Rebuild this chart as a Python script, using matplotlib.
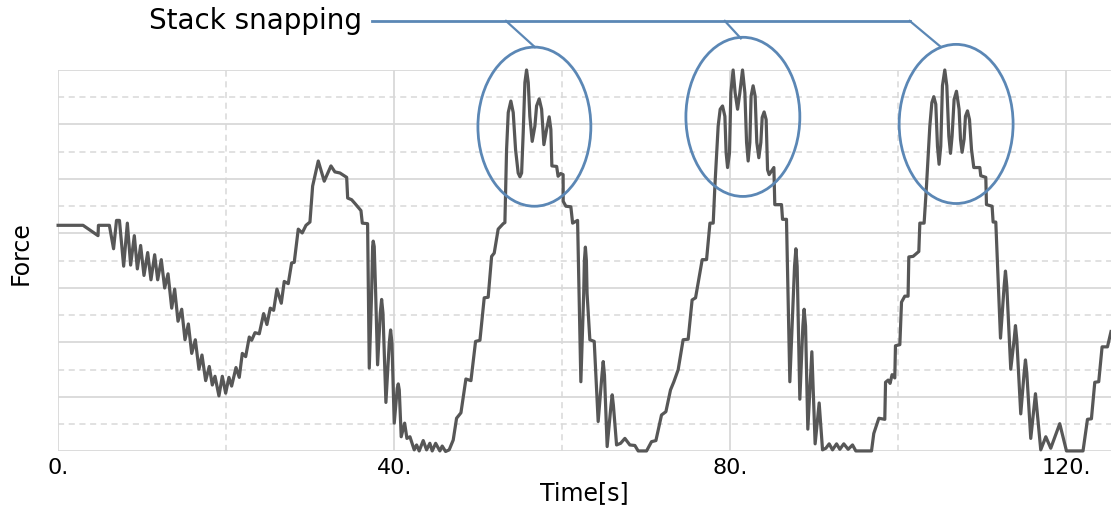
import matplotlib.pyplot as plt
from matplotlib.patches import Ellipse

plt.rcParams['font.family'] = ['DejaVu Sans']

# force trace (time in s, force in grid units)
time = [0, 2.97, 4.75, 4.8, 6.1, 6.6, 6.95, 7.3, 7.8, 8.24, 8.63, 9.07, 9.43, 9.82,
        10.22, 10.66, 11.05, 11.49, 11.85, 12.28, 12.68, 13.08, 13.52, 13.87, 14.27,
        14.71, 15.1, 15.5, 15.9, 16.33, 16.76, 17.12, 17.56, 17.99,
        18.35, 18.67, 19.14, 19.54, 19.94, 20.33, 20.65, 21.17, 21.56, 21.92, 22.32,
        22.75, 23.03, 23.43, 23.94, 24.46, 24.85, 25.25, 25.65, 26.04, 26.56, 26.91,
        27.39, 27.79, 28.1, 28.58, 29.05, 29.5, 29.97, 30.29, 30.96, 31.67, 32.47,
        32.94, 33.54, 34.34, 34.46, 34.93, 35.33, 36.04, 36.2, 36.83,
        37.03, 37.31, 37.43, 37.5, 37.62, 37.79, 38.02, 38.34, 38.5, 38.66, 39.01,
        39.41, 39.57, 39.73, 40.0, 40.36, 40.48, 40.6, 40.83, 41.24, 41.51,
        41.87, 42.38, 42.66, 42.97, 43.45, 43.85, 44.24, 44.52, 44.93, 45.43, 45.71,
        46.11, 46.54, 47.02, 47.42, 47.94, 48.53, 49.13, 49.68, 50.2, 50.71, 51.18,
        51.59, 51.9, 52.37, 52.97, 53.17, 53.37, 53.57, 53.88, 54.16, 54.44, 54.75,
        54.96, 55.16, 55.35, 55.55, 55.75, 55.95, 56.14, 56.42, 56.74, 56.94, 57.25,
        57.54, 57.81, 58.13, 58.44, 58.64, 58.76, 59.33, 59.5, 59.8, 60.1, 60.11,
        60.43, 61.02, 61.23, 61.82,
        62.21, 62.55, 62.63, 62.75, 62.87, 62.95, 63.28, 63.8, 64.27, 64.72, 64.87,
        65.02, 65.34, 65.8, 65.94, 66.08, 66.46, 66.94, 67.45,
        68.04, 68.64, 69.03, 70.03, 70.62, 71.14, 71.81, 72.33, 72.88, 73.28, 73.79,
        74.38, 74.98, 75.45, 75.86, 76.65, 77.17, 77.57, 77.96, 78.16, 78.55, 78.79,
        79.07, 79.35, 79.5, 79.67, 79.9, 80.06, 80.33, 80.57, 80.86, 81.13, 81.45,
        81.73, 81.93, 82.12, 82.32, 82.47, 82.71, 82.95, 83.15, 83.39, 83.63, 83.79,
        84.02, 84.26, 84.43, 84.62, 85.18, 85.29,
        86.09, 86.21, 86.68, 87.08, 87.64, 87.8, 87.95, 88.27, 88.63, 88.78, 88.95,
        89.22, 89.7, 90.09, 90.57,
        90.97, 91.37, 91.76, 92.16, 92.64, 93.03, 93.5, 94.02, 94.54, 94.93, 96.8,
        97.07, 97.67, 98.38, 98.47, 98.78, 99.01, 99.25, 99.57, 99.65, 100.17,
        100.37, 100.76, 101.15, 101.24, 101.75, 102.43, 102.55, 103.06, 103.34,
        103.74, 103.98, 104.21, 104.45, 104.65, 104.84, 105.04, 105.24, 105.52,
        105.76, 106.0, 106.2, 106.39, 106.63, 106.91, 107.22, 107.39, 107.58,
        107.82, 107.98, 108.22, 108.46, 108.7, 108.97, 109.69,
        109.8, 110.4, 110.48, 111.15, 111.27, 111.59, 112.15, 112.58, 112.74, 112.9,
        113.37, 113.77, 113.93, 114.09, 114.56, 114.96, 115.12, 115.28, 115.75,
        116.31, 116.94, 117.54, 118.13, 119.2, 120.0, 121.97,
        122.5, 122.97, 123.37, 123.84, 124.24, 124.88, 125.3]
force = [4.15, 4.15, 3.96, 4.15, 4.15, 3.72, 4.24, 4.24, 3.40, 4.19, 3.42, 3.96, 3.35, 3.78,
         3.23, 3.65, 3.15, 3.61, 3.15, 3.52, 3.0, 3.26, 2.63, 2.98, 2.39,
         2.61, 2.05, 2.34, 1.8, 2.05, 1.51, 1.77, 1.30, 1.56,
         1.22, 1.38, 1.02, 1.38, 1.07, 1.36, 1.20, 1.54, 1.36, 1.80, 1.74,
         2.10, 2.04, 2.18, 2.16, 2.53, 2.33, 2.63, 2.59, 2.98, 2.72, 3.12,
         3.08, 3.46, 3.47, 4.08, 4.01, 4.15, 4.21, 4.87, 5.33, 4.96, 5.24,
         5.13, 5.11, 5.03, 4.65, 4.62, 4.55, 4.42, 4.19, 4.18,
         1.53, 2.91, 3.76, 3.86, 3.76, 2.91, 1.59, 2.54, 2.79, 2.54, 0.90,
         1.99, 2.23, 1.99, 0.52, 1.16, 1.24, 1.13, 0.27, 0.52, 0.24,
         0.27, 0.03, 0.12, 0.01, 0.20, 0.03, 0.15, 0.01, 0.15, 0.01, 0.10,
         0.0, 0.03, 0.21, 0.61, 0.71, 1.33, 1.30, 2.02, 2.04, 2.82, 2.83,
         3.58, 3.64, 4.08, 4.18, 4.2, 5.54, 6.22, 6.43, 6.22, 5.54, 5.11,
         5.04, 5.11, 5.85, 6.77, 7.0, 6.77, 6.15, 5.69, 5.97, 6.34, 6.47,
         6.28, 5.63, 5.91, 6.14, 5.91, 5.24, 5.23, 5.05, 5.1, 5.08, 4.59,
         4.5, 4.49, 4.19, 4.24,
         1.28, 2.9, 3.5, 3.75, 3.5, 2.9, 2.05, 2.02, 0.55, 1.4, 1.65,
         1.4, 0.09, 0.85, 1.04, 0.85, 0.12, 0.15, 0.24,
         0.12, 0.11, 0.01, 0.01, 0.18, 0.2, 0.67, 0.73, 1.13, 1.28, 1.50,
         2.05, 2.06, 2.78, 2.82, 3.52, 3.52, 4.19, 4.19, 4.87, 5.97, 6.28,
         6.34, 6.15, 5.48, 5.21, 5.48, 6.58, 7.0, 6.58, 6.28, 6.58, 7.0,
         6.58, 5.67, 5.33, 5.67, 6.52, 6.71, 6.52, 5.67, 5.39, 5.67, 6.13,
         6.23, 6.09, 5.17, 5.08, 5.21, 4.53,
         4.53, 4.26, 4.26, 1.28, 3.4, 3.72, 3.4, 0.96, 2.3, 2.61, 2.3,
         0.41, 1.83, 0.14, 0.89,
         0.03, 0.06, 0.14, 0.03, 0.14, 0.04, 0.14, 0.04, 0.12, 0.01, 0.01,
         0.33, 0.61, 0.59, 1.27, 1.31, 1.25, 1.41, 1.35, 1.94, 1.96,
         2.74, 2.85, 2.85, 3.57, 3.58, 3.67, 4.19, 4.19, 4.87,
         5.97, 6.4, 6.51, 6.37, 5.6, 5.27, 5.6, 6.71, 7.0,
         6.71, 5.79, 5.47, 5.79, 6.46, 6.61, 6.28, 5.73, 5.49,
         5.73, 6.15, 6.25, 6.09, 5.54, 5.21, 5.21,
         5.06, 5.03, 4.53, 4.5, 4.21, 4.21, 2.08, 3.03, 3.31, 3.03,
         1.51, 2.05, 2.31, 2.05, 0.69, 1.44, 1.68, 1.44, 0.24,
         1.06, 0.03, 0.27, 0.06, 0.51, 0.01, 0.01,
         0.59, 0.6, 1.27, 1.28, 1.92, 1.92, 2.2]

# circled snapping regions: centre time, centre force, width, height
snap_t = [56.68, 81.49, 106.87]
snap_f = [5.96, 6.14, 6.01]
snap_w = [13.44, 13.56, 13.56]
snap_h = [2.92, 2.92, 2.92]

xticks = [0, 40, 80, 120]
xticklabels = ["0.", "40.", "80.", "120."]

fig = plt.figure(figsize=(11.11, 5.12), dpi=100)
ax = fig.add_axes([0.0523, 0.1182, 0.9477, 0.7451])

ax.plot(time, force, color="#575757", lw=2.3, solid_joinstyle="round", clip_on=False, zorder=3)

blue = "#5b87b5"
for t, f, w, h in zip(snap_t, snap_f, snap_w, snap_h):
    ax.add_patch(Ellipse((t, f), w, h, fill=False, ec=blue, lw=2.0, clip_on=False, zorder=4))

# label with leader lines to the circles
ax.plot([37.4, 101.35], [7.9, 7.9], color=blue, lw=2.0, clip_on=False)
ax.plot([53.3, 56.74], [7.9, 7.42], color=blue, lw=1.6, clip_on=False)
ax.plot([79.34, 81.25], [7.9, 7.58], color=blue, lw=1.6, clip_on=False)
ax.plot([101.35, 104.92], [7.9, 7.44], color=blue, lw=1.6, clip_on=False)
ax.text(36.2, 7.9, "Stack snapping", ha="right", va="center", fontsize=20)

ax.set_xlim(0, 125.3)
ax.set_ylim(0, 7)
ax.set_xticks(xticks)
ax.set_xticklabels(xticklabels, fontsize=16)
ax.set_xticks([20, 60, 100], minor=True)
ax.set_yticks(range(8))
ax.set_yticks([0.5 + i for i in range(7)], minor=True)
ax.set_yticklabels([])
ax.tick_params(which="both", length=0, pad=5)
ax.grid(which="major", color="#d9d9d9", lw=1.3, ls="-")
ax.grid(which="minor", color="#d9d9d9", lw=1.1, ls=(0, (4, 3)))
for s in ax.spines.values():
    s.set_visible(False)

ax.set_xlabel("Time[s]", fontsize=17, labelpad=2)
ax.set_ylabel("Force", fontsize=17)
ax.yaxis.set_label_coords(-0.024, 0.52)

fig.savefig("out.png", dpi=100)
